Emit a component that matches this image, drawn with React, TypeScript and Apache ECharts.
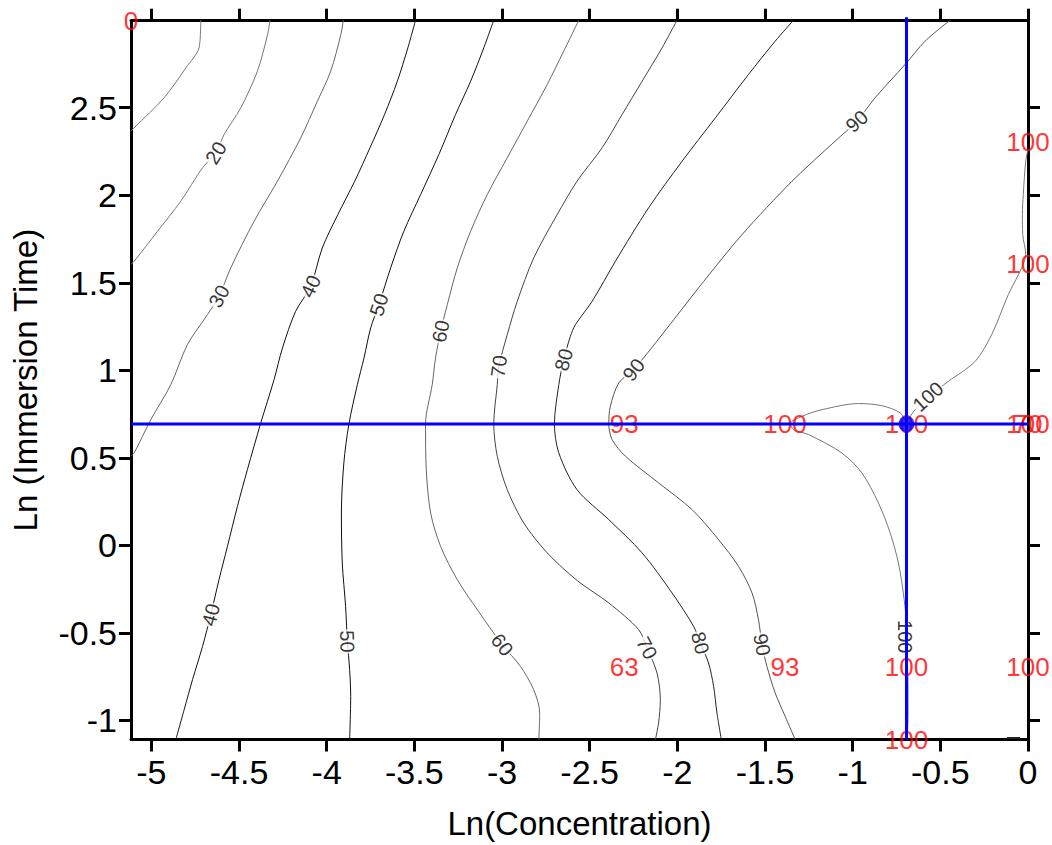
import React, { useEffect, useRef } from "react";
import * as echarts from "echarts";

const FONT = "'Liberation Sans', Arial, Helvetica, sans-serif";

// axis ranges (ln scale)
const X_MIN = -5.116;
const X_MAX = 0;
const Y_MIN = -1.109;
const Y_MAX = 2.997;
const X_TICKS = [-5, -4.5, -4, -3.5, -3, -2.5, -2, -1.5, -1, -0.5, 0];
const Y_TICKS = [-1, -0.5, 0, 0.5, 1, 1.5, 2, 2.5];

// contour lines [lnConc, lnTime]
const c10 = [[-4.718, 3.0], [-4.728, 2.842], [-4.803, 2.728], [-4.927, 2.557], [-5.098, 2.385], [-5.116, 2.365]];
const c20 = [[-4.323, 3.0], [-4.338, 2.914], [-4.395, 2.709], [-4.49, 2.499], [-4.585, 2.347], [-4.632, 2.242], [-4.708, 2.157], [-4.832, 1.966], [-4.965, 1.794], [-5.098, 1.623], [-5.116, 1.605]];
const c30 = [[-3.905, 3.0], [-3.92, 2.914], [-3.977, 2.709], [-4.053, 2.537], [-4.148, 2.328], [-4.281, 2.08], [-4.414, 1.851], [-4.547, 1.585], [-4.614, 1.423], [-4.68, 1.318], [-4.794, 1.147], [-4.889, 0.918], [-5.003, 0.718], [-5.098, 0.528], [-5.116, 0.51]];
const c40 = [[-3.493, 3.0], [-3.537, 2.842], [-3.597, 2.651], [-3.67, 2.461], [-3.753, 2.271], [-3.84, 2.08], [-3.936, 1.89], [-4.025, 1.699], [-4.091, 1.48], [-4.177, 1.337], [-4.252, 1.128], [-4.3, 0.947], [-4.376, 0.699], [-4.452, 0.433], [-4.509, 0.223], [-4.566, -0.006], [-4.614, -0.196], [-4.661, -0.396], [-4.708, -0.577], [-4.765, -0.767], [-4.813, -0.939], [-4.86, -1.109]];
const c50 = [[-3.047, 3.0], [-3.104, 2.842], [-3.179, 2.651], [-3.265, 2.461], [-3.36, 2.233], [-3.464, 2.004], [-3.56, 1.794], [-3.635, 1.585], [-3.702, 1.375], [-3.749, 1.242], [-3.787, 1.071], [-3.825, 0.918], [-3.873, 0.694], [-3.902, 0.471], [-3.916, 0.185], [-3.911, -0.101], [-3.892, -0.349], [-3.882, -0.549], [-3.869, -0.71], [-3.863, -0.863], [-3.869, -1.109]];
const c60 = [[-2.562, 3.0], [-2.648, 2.823], [-2.742, 2.633], [-2.856, 2.423], [-2.97, 2.214], [-3.084, 2.004], [-3.179, 1.794], [-3.255, 1.585], [-3.312, 1.375], [-3.35, 1.223], [-3.379, 1.071], [-3.398, 0.918], [-3.436, 0.694], [-3.432, 0.433], [-3.407, 0.185], [-3.35, -0.006], [-3.255, -0.196], [-3.141, -0.367], [-2.999, -0.567], [-2.895, -0.691], [-2.819, -0.825], [-2.785, -0.958], [-2.79, -1.109]];
const c70 = [[-2.002, 3.0], [-2.087, 2.842], [-2.201, 2.651], [-2.315, 2.461], [-2.429, 2.271], [-2.572, 2.08], [-2.685, 1.89], [-2.819, 1.642], [-2.913, 1.394], [-2.97, 1.204], [-3.018, 1.023], [-3.027, 0.918], [-3.047, 0.694], [-3.027, 0.509], [-2.97, 0.318], [-2.876, 0.128], [-2.742, -0.043], [-2.57, -0.202], [-2.391, -0.329], [-2.22, -0.482], [-2.173, -0.586], [-2.116, -0.729], [-2.097, -0.882], [-2.107, -1.015], [-2.125, -1.109]];
const c80 = [[-1.337, 3.0], [-1.442, 2.88], [-1.594, 2.69], [-1.783, 2.442], [-1.973, 2.194], [-2.164, 1.928], [-2.353, 1.623], [-2.486, 1.394], [-2.581, 1.261], [-2.61, 1.194], [-2.648, 1.061], [-2.676, 0.918], [-2.701, 0.694], [-2.676, 0.528], [-2.572, 0.318], [-2.391, 0.147], [-2.201, -0.043], [-2.03, -0.272], [-1.907, -0.463], [-1.869, -0.558], [-1.822, -0.672], [-1.793, -0.806], [-1.774, -0.958], [-1.749, -1.109]];
const c90 = [[-0.444, 3.0], [-0.587, 2.88], [-0.701, 2.747], [-0.872, 2.557], [-0.976, 2.423], [-1.1, 2.309], [-1.346, 2.08], [-1.631, 1.775], [-1.879, 1.471], [-2.087, 1.204], [-2.249, 1.004], [-2.334, 0.928], [-2.382, 0.794], [-2.391, 0.694], [-2.372, 0.604], [-2.296, 0.509], [-2.107, 0.357], [-1.916, 0.204], [-1.765, 0.033], [-1.651, -0.12], [-1.574, -0.272], [-1.537, -0.425], [-1.517, -0.567], [-1.489, -0.691], [-1.442, -0.843], [-1.385, -0.977], [-1.328, -1.109]];
const c100a = [[-0.695, 0.701], [-0.729, 0.757], [-0.834, 0.798], [-0.967, 0.81], [-1.175, 0.775], [-1.289, 0.737], [-1.356, 0.695], [-1.337, 0.661], [-1.252, 0.633], [-1.062, 0.528], [-0.948, 0.414], [-0.853, 0.242], [-0.786, 0.071], [-0.739, -0.101], [-0.711, -0.272], [-0.695, -0.425], [-0.69, -0.6], [-0.684, -0.825], [-0.684, -0.977], [-0.689, -1.109]];
const c100b = [[-0.695, 0.701], [-0.644, 0.775], [-0.57, 0.85], [-0.454, 0.937], [-0.302, 1.051], [-0.207, 1.204], [-0.112, 1.433], [-0.036, 1.585], [-0.013, 1.661], [-0.03, 1.775], [-0.032, 1.89], [-0.027, 2.004], [-0.013, 2.194], [0, 2.261]];
const c100c = [[-0.12, -1.1], [-0.046, -1.1]];

const contours = [c10, c20, c30, c40, c50, c60, c70, c80, c90, c100a, c100b, c100c];
const contourColors = ["#777", "#777", "#666", "#111", "#111", "#666", "#444", "#222", "#555", "#777", "#777", "#222"];

// contour labels
const labelText = ["20", "30", "40", "50", "60", "70", "80", "90", "90", "100", "40", "50", "60", "70", "80", "90", "100"];
const labelX = [-4.632, -4.614, -4.091, -3.702, -3.35, -3.018, -2.648, -2.249, -0.976, -0.57, -4.661, -3.882, -2.999, -2.173, -1.869, -1.517, -0.701];
const labelY = [2.242, 1.423, 1.48, 1.375, 1.223, 1.023, 1.061, 1.004, 2.423, 0.85, -0.396, -0.549, -0.567, -0.586, -0.558, -0.567, -0.522];
const labelRot = [58, 62, 65, 72, 78, 82, 75, 52, 42, 42, 75, -88, -52, -62, -75, -80, -90];

// experimental points (red values)
const pointX = [-5.116, -2.303, -1.386, -0.693, 0, 0, 0, 0, -2.303, -1.386, -0.693, 0, -0.693];
const pointY = [2.997, 0.693, 0.693, 0.693, 0.693, 0.693, 2.303, 1.609, -0.693, -0.693, -0.693, -0.693, -1.109];
const pointVal = ["0", "93", "100", "100", "100", "70", "100", "100", "63", "93", "100", "100", "100"];

// optimum crosshair
const optX = -0.693;
const optY = 0.693;

export default function App() {
  const ref = useRef<HTMLDivElement>(null);
  useEffect(() => {
    const chart = echarts.init(ref.current!, null, { renderer: "svg" });
    const axisLine = { show: true, onZero: false, lineStyle: { color: "#000", width: 3 } };
    const tickStyle = { color: "#000", width: 3 };
    const series: any[] = [];
    contours.forEach((c, i) => {
      series.push({
        type: "line",
        data: c,
        symbol: "none",
        showSymbol: false,
        smooth: 0.3,
        clip: true,
        silent: true,
        z: 2,
        lineStyle: { color: contourColors[i], width: i === 11 ? 2 : 1 },
      });
    });
    series.push({
      type: "scatter",
      symbolSize: 0,
      silent: true,
      z: 3,
      data: labelText.map((t, i) => ({
        name: t,
        value: [labelX[i], labelY[i]],
        label: { rotate: labelRot[i] },
      })),
      label: {
        show: true,
        position: "inside",
        formatter: "{b}",
        fontSize: 20,
        fontFamily: FONT,
        color: "#000",
        backgroundColor: "#fff",
        padding: [0, 1],
      },
    });
    series.push({
      type: "scatter",
      symbolSize: 0,
      silent: true,
      clip: false,
      z: 4,
      data: pointVal.map((v, i) => ({ name: v, value: [pointX[i], pointY[i]] })),
      label: {
        show: true,
        position: "inside",
        formatter: "{b}",
        fontSize: 26,
        fontFamily: FONT,
        color: "#ff0000",
      },
    });
    series.push({
      type: "line",
      data: [[X_MIN, optY], [X_MAX, optY]],
      symbol: "none",
      clip: false,
      silent: true,
      z: 10,
      lineStyle: { color: "#0000ff", width: 3 },
    });
    series.push({
      type: "line",
      data: [[optX, Y_MAX + 0.02], [optX, Y_MIN]],
      symbol: "none",
      clip: false,
      silent: true,
      z: 10,
      lineStyle: { color: "#0000ff", width: 3 },
    });
    series.push({
      type: "scatter",
      data: [[optX, optY]],
      symbol: "circle",
      symbolSize: 16,
      silent: true,
      z: 11,
      itemStyle: { color: "#0000ff" },
    });

    chart.setOption({
      animation: false,
      backgroundColor: "#fff",
      grid: { left: 131, right: 24, top: 20.7, bottom: 105.5, containLabel: false, outerBoundsMode: "none" },
      xAxis: [
        {
          type: "value",
          position: "bottom",
          min: X_MIN,
          max: X_MAX,
          axisLine,
          axisTick: { show: true, customValues: X_TICKS, length: 12, lineStyle: tickStyle },
          axisLabel: {
            show: true,
            customValues: X_TICKS,
            margin: 15,
            fontSize: 34,
            fontFamily: FONT,
            color: "#000",
            formatter: (v: number) => String(v),
          },
          splitLine: { show: false },
          name: "Ln(Concentration)",
          nameLocation: "middle",
          nameGap: 67,
          nameTextStyle: { fontSize: 33, fontFamily: FONT, color: "#000" },
        },
        {
          type: "value",
          position: "top",
          min: X_MIN,
          max: X_MAX,
          axisLine,
          axisTick: { show: true, customValues: X_TICKS, length: 12, lineStyle: tickStyle },
          axisLabel: { show: false },
          splitLine: { show: false },
        },
      ],
      yAxis: [
        {
          type: "value",
          position: "left",
          min: Y_MIN,
          max: Y_MAX,
          axisLine,
          axisTick: { show: true, customValues: Y_TICKS, length: 12, lineStyle: tickStyle },
          axisLabel: {
            show: true,
            customValues: Y_TICKS,
            margin: 14,
            fontSize: 34,
            fontFamily: FONT,
            color: "#000",
            formatter: (v: number) => String(v),
          },
          splitLine: { show: false },
          name: "Ln (Immersion Time)",
          nameLocation: "middle",
          nameRotate: 90,
          nameGap: 89,
          nameTextStyle: { fontSize: 33, fontFamily: FONT, color: "#000" },
        },
        {
          type: "value",
          position: "right",
          min: Y_MIN,
          max: Y_MAX,
          axisLine,
          axisTick: { show: true, customValues: Y_TICKS, length: 12, lineStyle: tickStyle },
          axisLabel: { show: false },
          splitLine: { show: false },
        },
      ],
      series,
    });
    return () => chart.dispose();
  }, []);
  return (
    <div
      ref={ref}
      style={{ position: "fixed", left: 0, top: 0, width: 1052, height: 845, background: "#fff" }}
    />
  );
}
